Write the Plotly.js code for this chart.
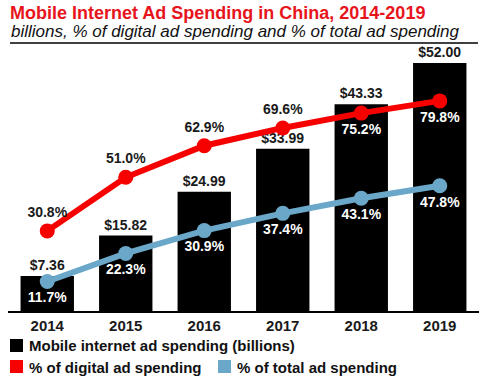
<!DOCTYPE html>
<html><head><meta charset="utf-8">
<script src="https://cdn.plot.ly/plotly-3.0.1.min.js"></script>
<style>html,body{margin:0;padding:0;background:#fff}#chart{width:481px;height:378px}</style>
</head><body><div id="chart"></div>
<script>
const years = ['2014','2015','2016','2017','2018','2019'];
const spending = [7.36, 15.82, 24.99, 33.99, 43.33, 52.00];
const spendingLabels = ['$7.36','$15.82','$24.99','$33.99','$43.33','$52.00'];
const pctDigital = [30.8, 51.0, 62.9, 69.6, 75.2, 79.8];
const pctDigitalLabels = ['30.8%','51.0%','62.9%','69.6%','75.2%','79.8%'];
const pctTotal = [11.7, 22.3, 30.9, 37.4, 43.1, 47.8];
const pctTotalLabels = ['11.7%','22.3%','30.9%','37.4%','43.1%','47.8%'];

const FONT = 'Liberation Sans, Arial, sans-serif';
const RED = '#f70000', BLUE = '#6aa7c9';
const W = 481, H = 378, L = 8, R = 2, T = 50, B = 67;
const pw = W - L - R, ph = H - T - B;
const px = x => (x - L) / pw;
const py = y => (H - B - y) / ph;

const traces = [
  {type:'bar', x: years, y: spending, text: spendingLabels, textposition:'outside',
   textfont:{family:FONT, size:14, color:'#1a1a1a', weight:'bold'}, marker:{color:'#000'},
   width:0.68, cliponaxis:false, hoverinfo:'none', showlegend:false},
  {type:'scatter', mode:'lines+markers+text', x: years, y: pctDigital, yaxis:'y2',
   text: pctDigitalLabels,
   textposition:['top center','top center','top center','top center','bottom center','bottom center'],
   textfont:{family:FONT, size:14, weight:'bold', color:['#1a1a1a','#1a1a1a','#1a1a1a','#1a1a1a','#fff','#fff']},
   line:{color:RED, width:6}, marker:{color:RED, size:15}, cliponaxis:false, showlegend:false},
  {type:'scatter', mode:'lines+markers+text', x: years, y: pctTotal, yaxis:'y2',
   text: pctTotalLabels, textposition:'bottom center',
   textfont:{family:FONT, size:14, weight:'bold', color:'#fff'},
   line:{color:BLUE, width:6}, marker:{color:BLUE, size:15}, cliponaxis:false, showlegend:false}
];

const legendItems = [
  {label:'Mobile internet ad spending (billions)', color:'#000', x0:10, ty:345, sy0:339, sy1:352},
  {label:'% of digital ad spending', color:RED, x0:10, ty:367, sy0:360, sy1:373},
  {label:'% of total ad spending', color:BLUE, x0:218, ty:367, sy0:360, sy1:373}
];

const shapes = [
  {type:'line', xref:'paper', yref:'paper', x0:px(10), x1:px(478), y0:py(43), y1:py(43), line:{color:'#000', width:1.5}}
];
const annotations = [
  {xref:'paper', yref:'paper', x:px(9), y:py(31), xanchor:'left', yanchor:'middle', showarrow:false,
   text:'<i>billions, % of digital ad spending and % of total ad spending</i>',
   font:{family:FONT, size:17, color:'#111'}}
];
legendItems.forEach(it => {
  shapes.push({type:'rect', xref:'paper', yref:'paper', x0:px(it.x0), x1:px(it.x0+13), y0:py(it.sy1), y1:py(it.sy0),
    fillcolor:it.color, line:{width:0}});
  annotations.push({xref:'paper', yref:'paper', x:px(it.x0+17), y:py(it.ty), xanchor:'left', yanchor:'middle',
    showarrow:false, text:'<b>'+it.label+'</b>', font:{family:FONT, size:15, color:'#111'}});
});

const layout = {
  width:W, height:H, margin:{l:L, r:R, t:T, b:B}, paper_bgcolor:'#fff', plot_bgcolor:'#fff',
  title:{text:'<b>Mobile Internet Ad Spending in China, 2014-2019</b>', x:10/W, xanchor:'left',
    y:1-13/H, yanchor:'middle', xref:'container', yref:'container', font:{family:FONT, size:18, color:'#e8141c'}},
  xaxis:{type:'category', range:[-0.5,5.5], showline:true, linecolor:'#000', linewidth:1.5, ticks:'',
    tickfont:{family:FONT, size:15, color:'#1a1a1a', weight:'bold'}, showgrid:false, zeroline:false, fixedrange:true},
  yaxis:{range:[0, ph/4.77], visible:false, showgrid:false, zeroline:false},
  yaxis2:{range:[0.6, ph/2.653 + 0.6], overlaying:'y', visible:false, showgrid:false, zeroline:false},
  shapes, annotations, bargap:0.32, showlegend:false
};
Plotly.newPlot('chart', traces, layout, {staticPlot:true, displayModeBar:false});
</script></body></html>
